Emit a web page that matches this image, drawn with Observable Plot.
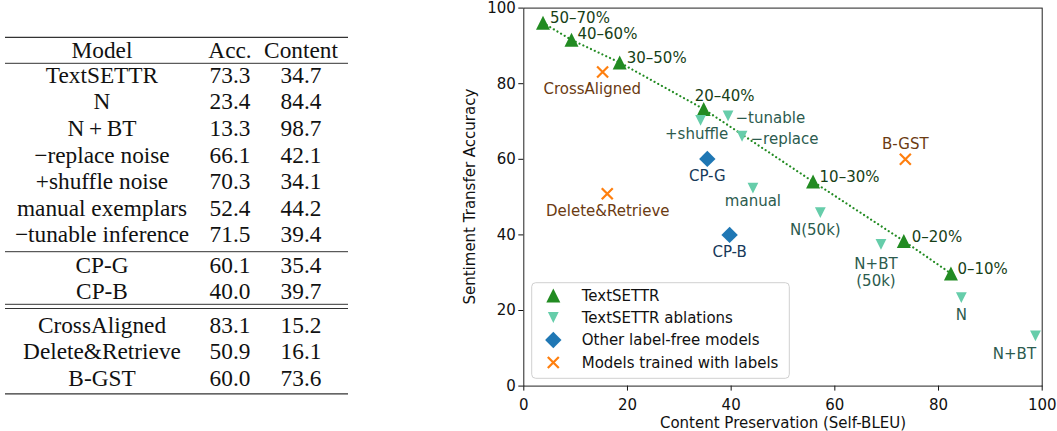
<!DOCTYPE html>
<html>
<head>
<meta charset="utf-8">
<script src="https://cdn.jsdelivr.net/npm/d3@7"></script>
<script src="https://cdn.jsdelivr.net/npm/@observablehq/plot@0.6"></script>
<style>
  html, body { margin: 0; padding: 0; background: white; }
  #wrap { position: relative; width: 1057px; height: 431px; overflow: hidden; background: white; }
  #wrap > svg { position: absolute; left: 0; top: 0; }
</style>
</head>
<body>
<div id="wrap"></div>
<script>
// ---------------- Table data ----------------
const tableHeader = ["Model", "Acc.", "Content"];
const tableModels = ["TextSETTR", "N", "N\u2009+\u2009BT", "\u2212replace noise", "+shuffle noise", "manual exemplars", "\u2212tunable inference",
                     "CP-G", "CP-B", "CrossAligned", "Delete&Retrieve", "B-GST"];
const tableAcc = [73.3, 23.4, 13.3, 66.1, 70.3, 52.4, 71.5, 60.1, 40.0, 83.1, 50.9, 60.0];
const tableContent = [34.7, 84.4, 98.7, 42.1, 34.1, 44.2, 39.4, 35.4, 39.7, 15.2, 16.1, 73.6];

// ---------------- Chart data ----------------
const seriesNames = ["TextSETTR", "TextSETTR ablations", "Other label-free models", "Models trained with labels"];
const xAxisLabel = "Content Preservation (Self-BLEU)";
const yAxisLabel = "Sentiment Transfer Accuracy";

const textsettrLabels = ["50\u201370%", "40\u201360%", "30\u201350%", "20\u201340%", "10\u201330%", "0\u201320%", "0\u201310%"];
const textsettrContent = [3.7, 9.2, 18.5, 34.7, 55.8, 73.3, 82.4];
const textsettrAcc = [96.1, 91.6, 85.6, 73.3, 54.1, 38.4, 29.8];

const ablationLabels = ["+shuffle", "\u2212tunable", "\u2212replace", "manual", "N(50k)", "N+BT\n(50k)", "N", "N+BT"];
const ablationContent = [34.1, 39.4, 42.1, 44.2, 57.2, 68.9, 84.4, 98.7];
const ablationAcc = [70.3, 71.5, 66.1, 52.4, 45.9, 37.5, 23.4, 13.3];

const labelFreeLabels = ["CP-G", "CP-B"];
const labelFreeContent = [35.4, 39.7];
const labelFreeAcc = [60.1, 40.0];

const trainedLabels = ["CrossAligned", "Delete&Retrieve", "B-GST"];
const trainedContent = [15.2, 16.1, 73.6];
const trainedAcc = [83.1, 50.9, 60.0];

const xTicks = [0, 20, 40, 60, 80, 100];
const yTicks = [0, 20, 40, 60, 80, 100];

// ---------------- Styles ----------------
const markerColors = ["#228B22", "#66CDAA", "#1f77b4", "#ff7f0e"];
const labelColors = ["#173f17", "#2c5b4e", "#17395a", "#6b3b12"];

// label placement: [dx, dy, textAnchor]
const labelPlacement = {
  "50\u201370%": [7, -5.5, "start"], "40\u201360%": [6, -6, "start"], "30\u201350%": [7, -5, "start"],
  "20\u201340%": [-9, -13.5, "start"], "10\u201330%": [6.5, -5.5, "start"], "0\u201320%": [8, -4.5, "start"],
  "0\u201310%": [6.5, -4.5, "start"],
  "+shuffle": [-4, 13.5, "middle"], "\u2212tunable": [7.5, 1.5, "start"], "\u2212replace": [8.5, 2, "start"],
  "manual": [0, 12.5, "middle"], "N(50k)": [-5, 17, "middle"], "N+BT\n(50k)": [-5, 27.5, "middle"],
  "N": [0, 17, "middle"], "N+BT": [-21, 17.4, "middle"],
  "CP-G": [0, 16.6, "middle"], "CP-B": [0, 16.6, "middle"],
  "CrossAligned": [-10.4, 16.8, "middle"], "Delete&Retrieve": [0.5, 16.8, "middle"], "B-GST": [0, -15.5, "middle"]
};

// matplotlib-like marker shapes
const triUp = {draw(ctx, size) { const s = Math.sqrt(size / Math.PI); ctx.moveTo(0, -s); ctx.lineTo(s, s); ctx.lineTo(-s, s); ctx.closePath(); }};
const triDown = {draw(ctx, size) { const s = Math.sqrt(size / Math.PI); ctx.moveTo(0, s); ctx.lineTo(s, -s); ctx.lineTo(-s, -s); ctx.closePath(); }};
const diamond = {draw(ctx, size) { const s = Math.sqrt(size / Math.PI); ctx.moveTo(0, -s); ctx.lineTo(s, 0); ctx.lineTo(0, s); ctx.lineTo(-s, 0); ctx.closePath(); }};
const cross = {draw(ctx, size) { const s = Math.sqrt(size / Math.PI); ctx.moveTo(-s, -s); ctx.lineTo(s, s); ctx.moveTo(s, -s); ctx.lineTo(-s, s); }};
const symbols = [triUp, triDown, diamond, cross];
const markerR = [7, 5.4, 8.2, 5.5];

const build = (labels, xs, ys) => labels.map((l, i) => ({label: l, c: xs[i], a: ys[i]}));
const series = [
  build(textsettrLabels, textsettrContent, textsettrAcc),
  build(ablationLabels, ablationContent, ablationAcc),
  build(labelFreeLabels, labelFreeContent, labelFreeAcc),
  build(trainedLabels, trainedContent, trainedAcc)
];

const FONT = "DejaVu Sans, sans-serif";
const marks = [];
marks.push(Plot.frame({stroke: "#222", strokeWidth: 1}));
marks.push(Plot.line(series[0], {x: "c", y: "a", stroke: "#228B22", strokeWidth: 2.2, strokeDasharray: "0.01,4.2", strokeLinecap: "round"}));
series.forEach((data, k) => {
  if (k === 3) {
    marks.push(Plot.dot(data, {x: "c", y: "a", symbol: symbols[k], r: markerR[k], stroke: markerColors[k], strokeWidth: 2.2, fill: "none"}));
  } else {
    marks.push(Plot.dot(data, {x: "c", y: "a", symbol: symbols[k], r: markerR[k], fill: markerColors[k], stroke: "none"}));
  }
});
series.forEach((data, k) => {
  data.forEach(d => {
    const [dx, dy, anchor] = labelPlacement[d.label];
    marks.push(Plot.text([d], {x: "c", y: "a", text: "label", dx, dy, textAnchor: anchor, fill: labelColors[k],
      fontSize: 15, lineHeight: 1.15, fontFamily: FONT}));
  });
});
marks.push(Plot.text([xAxisLabel], {text: d => d, frameAnchor: "bottom", dy: 42, fontSize: 15, fill: "#111", fontFamily: FONT}));

const chart = Plot.plot({
  width: 1057, height: 431,
  marginLeft: 523.3, marginRight: 15.3, marginTop: 7.6, marginBottom: 45.4,
  style: {fontFamily: FONT, fontSize: "15px", background: "transparent", color: "#111", overflow: "visible"},
  x: {domain: [0, 100], ticks: xTicks, tickSize: 5, tickPadding: 8.5, label: null, tickFormat: d => d},
  y: {domain: [0, 100], ticks: yTicks, tickSize: 5, tickPadding: 3, label: null, tickFormat: d => d},
  marks
});
const wrap = document.getElementById("wrap");
wrap.appendChild(chart);

// ---------------- Table (SVG) ----------------
const tsvg = d3.create("svg").attr("width", 460).attr("height", 431)
  .style("font-family", "'Liberation Serif', 'Times New Roman', serif").style("font-size", "23.3px");
const colX = [102, 230, 301];
const capShift = 7.7;
const left = 5, right = 348;
const rule = (y, w) => tsvg.append("line").attr("x1", left).attr("x2", right).attr("y1", y).attr("y2", y)
  .attr("stroke", "#333").attr("stroke-width", w);
rule(37.3, 1.2); rule(63.3, 1); rule(251.7, 1); rule(304.3, 1); rule(308.5, 1); rule(393.8, 1.2);
tableHeader.forEach((h, j) => tsvg.append("text").attr("x", colX[j]).attr("y", 50.7 + capShift)
  .attr("text-anchor", "middle").attr("fill", "#111").text(h));
const groupStarts = [[0, 75], [7, 265], [9, 325]];
const rowY = i => {
  let g = groupStarts[0];
  for (const gs of groupStarts) if (i >= gs[0]) g = gs;
  return g[1] + (i - g[0]) * 26.6;
};
tableModels.forEach((m, i) => {
  const y = rowY(i) + capShift;
  tsvg.append("text").attr("x", colX[0]).attr("y", y).attr("text-anchor", "middle").attr("fill", "#111").text(m);
  tsvg.append("text").attr("x", colX[1]).attr("y", y).attr("text-anchor", "middle").attr("fill", "#111").text(tableAcc[i].toFixed(1));
  tsvg.append("text").attr("x", colX[2]).attr("y", y).attr("text-anchor", "middle").attr("fill", "#111").text(tableContent[i].toFixed(1));
});
wrap.appendChild(tsvg.node());

// ---------------- Legend + y-axis title (SVG overlay) ----------------
const lsvg = d3.create("svg").attr("width", 1057).attr("height", 431).style("pointer-events", "none")
  .style("font-family", FONT).style("font-size", "15px");
lsvg.append("text").attr("transform", "translate(470,196.6) rotate(-90)").attr("text-anchor", "middle")
  .attr("dy", "0.35em").attr("fill", "#111").text(yAxisLabel);
lsvg.append("rect").attr("x", 531.7).attr("y", 282.7).attr("width", 257.6).attr("height", 95.6)
  .attr("rx", 4).attr("fill", "white").attr("fill-opacity", 0.8).attr("stroke", "#d0d0d0").attr("stroke-width", 1);
const legendY = [295.5, 317.5, 340, 362.5];
seriesNames.forEach((name, k) => {
  const path = d3.symbol(symbols[k], Math.PI * markerR[k] * markerR[k])();
  const p = lsvg.append("path").attr("d", path).attr("transform", `translate(553.3,${legendY[k]})`);
  if (k === 3) p.attr("fill", "none").attr("stroke", markerColors[k]).attr("stroke-width", 2.2);
  else p.attr("fill", markerColors[k]);
  lsvg.append("text").attr("x", 581.7).attr("y", legendY[k]).attr("dy", "0.35em").attr("fill", "#111").text(name);
});
wrap.appendChild(lsvg.node());
</script>
</body>
</html>
